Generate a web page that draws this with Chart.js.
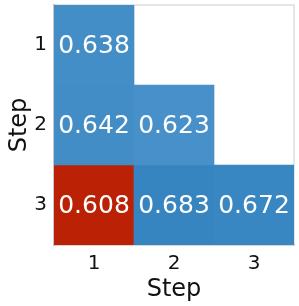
<!DOCTYPE html>
<html>
<head>
<meta charset="utf-8">
<script src="https://cdn.jsdelivr.net/npm/chart.js@4"></script>
<style>
  html, body { margin: 0; padding: 0; background: #fff; }
  #wrap { width: 299px; height: 306px; }
</style>
</head>
<body>
<div id="wrap"><canvas id="chart" width="299" height="306"></canvas></div>
<script>
// steps on both axes, lower triangle of the matrix
const steps = ['1', '2', '3'];
const row1 = [0.638, null, null];
const row2 = [0.642, 0.623, null];
const row3 = [0.608, 0.683, 0.672];
const rows = [row1, row2, row3];

const allVals = rows.flat().filter(v => v !== null);
const minVal = Math.min(...allVals);

function cellColor(v) {
    if (v === minVal) return '#bb2205';
    // light blue -> darker blue as value goes up
    const t = Math.max(0, Math.min(1, (v - 0.62) / 0.07));
    const a = [72, 145, 201], b = [52, 132, 192];
    const c = a.map((x, i) => Math.round(x + (b[i] - x) * t));
    return `rgb(${c[0]},${c[1]},${c[2]})`;
}

const datasets = rows.map((row, r) => ({
    label: 'row ' + (r + 1),
    data: row.map(v => v === null ? null : [r + 0.5, r + 1.5]),
    values: row,
    backgroundColor: row.map(v => v === null ? 'transparent' : cellColor(v)),
    borderWidth: 0,
    grouped: false,
    barPercentage: 1.0,
    categoryPercentage: 1.0
}));

const frame = {
    id: 'frame',
    beforeDatasetsDraw(chart) {
        const { ctx, chartArea: a } = chart;
        ctx.save();
        ctx.strokeStyle = '#dddddd';
        ctx.lineWidth = 1.5;
        ctx.strokeRect(a.left, a.top, a.right - a.left, a.bottom - a.top);
        ctx.restore();
    }
};

const cellText = {
    id: 'cellText',
    afterDatasetsDraw(chart) {
        const { ctx, scales: { x, y } } = chart;
        ctx.save();
        ctx.fillStyle = '#ffffff';
        ctx.font = '25px "DejaVu Sans"';
        ctx.textAlign = 'center';
        ctx.textBaseline = 'middle';
        chart.data.datasets.forEach((ds, r) => {
            ds.values.forEach((v, c) => {
                if (v === null) return;
                ctx.fillText(v.toFixed(3), x.getPixelForValue(c), y.getPixelForValue(r + 1) + 1);
            });
        });
        ctx.restore();
    }
};

new Chart(document.getElementById('chart').getContext('2d'), {
    type: 'bar',
    data: { labels: steps, datasets: datasets },
    plugins: [frame, cellText],
    options: {
        responsive: false,
        animation: false,
        layout: { padding: { top: 5, right: 5, left: 0, bottom: 0 } },
        plugins: { legend: { display: false }, tooltip: { enabled: false } },
        scales: {
            x: {
                offset: true,
                grid: { display: false, drawTicks: true, tickLength: 5, tickColor: '#888' },
                border: { display: true, color: '#888', width: 1.5 },
                ticks: { color: '#111', font: { family: 'DejaVu Sans', size: 20 }, padding: 2 },
                title: { display: true, text: 'Step', color: '#111', font: { family: 'DejaVu Sans', size: 24 }, padding: { top: 0, bottom: 2 } },
                afterFit(scale) {
                    scale.height = 61;
                    scale.paddingLeft = 0;
                    scale.paddingRight = 0;
                }
            },
            y: {
                type: 'linear',
                reverse: true,
                min: 0.5,
                max: 3.5,
                grid: { display: false, drawTicks: true, tickLength: 5, tickColor: '#888' },
                border: { display: true, color: '#888', width: 1.5 },
                afterBuildTicks(scale) { scale.ticks = steps.map(s => ({ value: Number(s) })); },
                ticks: { color: '#111', font: { family: 'DejaVu Sans', size: 20 }, padding: 2 },
                title: { display: true, text: 'Step', color: '#111', font: { family: 'DejaVu Sans', size: 24 }, padding: { top: 5, bottom: 2 } },
                afterFit(scale) {
                    scale.width = 54;
                    scale.paddingTop = 0;
                    scale.paddingBottom = 0;
                }
            }
        }
    }
});
</script>
</body>
</html>
